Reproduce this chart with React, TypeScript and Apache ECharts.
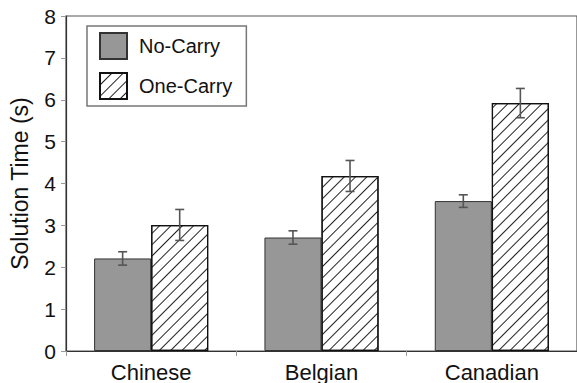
import React, { useEffect, useRef } from "react";
import * as echarts from "echarts";

const groups = ["Chinese", "Belgian", "Canadian"];
const noCarry = [2.21, 2.71, 3.58];
const noCarryErr = [0.16, 0.16, 0.15];
const oneCarry = [3.01, 4.18, 5.92];
const oneCarryErr = [0.37, 0.37, 0.35];
const yTicks = [0, 1, 2, 3, 4, 5, 6, 7, 8];

const FONT = '"Liberation Sans", Arial, Helvetica, sans-serif';
const CATEGORY_GAP = 0.33;

// Error bar drawn at the centre of the left (-1) or right (+1) bar of a group
function errorBarRenderer(side: number) {
  return (params: any, api: any) => {
    const idx = api.value(0);
    const v = api.value(1);
    const e = api.value(2);
    const band = api.size([1, 0])[0];
    const bw = (band * (1 - CATEGORY_GAP)) / 2;
    const base = api.coord([idx, v]);
    const cx = base[0] + (side * bw) / 2;
    const yTop = api.coord([idx, v + e])[1];
    const yBot = api.coord([idx, v - e])[1];
    const cap = 4.5;
    const style = { stroke: "#555", lineWidth: 1.6 };
    return {
      type: "group",
      children: [
        { type: "line", shape: { x1: cx, y1: yTop, x2: cx, y2: yBot }, style },
        { type: "line", shape: { x1: cx - cap, y1: yTop, x2: cx + cap, y2: yTop }, style },
        { type: "line", shape: { x1: cx - cap, y1: yBot, x2: cx + cap, y2: yBot }, style },
      ],
    };
  };
}

export default function App() {
  const ref = useRef<HTMLDivElement>(null);

  useEffect(() => {
    if (!ref.current) return;
    const chart = echarts.init(ref.current, undefined, { renderer: "svg" });

    const hatch = {
      symbol: "rect",
      symbolSize: 1,
      color: "#222",
      backgroundColor: "#fff",
      dashArrayX: [1, 0],
      dashArrayY: [0.8, 7],
      rotation: -Math.PI / 4,
    };

    chart.setOption({
      animation: false,
      textStyle: { fontFamily: FONT },
      grid: {
        left: 63,
        top: 16,
        bottom: 31,
        right: -2,
        show: true,
        borderColor: "#555",
        borderWidth: 1.2,
        backgroundColor: "transparent",
      },
      legend: {
        orient: "vertical",
        left: 87,
        top: 26,
        padding: [6, 14, 6, 12],
        itemGap: 12,
        itemWidth: 27,
        itemHeight: 26,
        icon: "rect",
        borderColor: "#777",
        borderWidth: 1.5,
        backgroundColor: "#fff",
        textStyle: { fontSize: 20, color: "#111", fontFamily: FONT, padding: [0, 0, 0, 7] },
        data: ["No-Carry", "One-Carry"],
      },
      xAxis: {
        type: "category",
        data: groups,
        boundaryGap: true,
        axisLine: { lineStyle: { color: "#333", width: 1.2 } },
        axisTick: { show: true, length: 5, lineStyle: { color: "#999" } },
        axisLabel: { fontSize: 22, color: "#111", margin: 10, fontFamily: FONT },
      },
      yAxis: {
        type: "value",
        min: 0,
        max: 8,
        interval: 1,
        name: "Solution Time (s)",
        nameLocation: "middle",
        nameGap: 35,
        nameTextStyle: { fontSize: 23, color: "#111", fontFamily: FONT },
        axisLine: { show: true, lineStyle: { color: "#333", width: 1.2 } },
        axisTick: { show: true, length: 5, lineStyle: { color: "#999" } },
        axisLabel: {
          fontSize: 21,
          color: "#111",
          margin: 10,
          fontFamily: FONT,
          formatter: (v: number) => (yTicks.includes(v) ? String(v) : ""),
        },
        splitLine: { show: false },
      },
      series: [
        {
          name: "No-Carry",
          type: "bar",
          data: noCarry,
          barGap: "0%",
          barCategoryGap: CATEGORY_GAP * 100 + "%",
          itemStyle: { color: "#979797", borderColor: "#333", borderWidth: 1 },
        },
        {
          name: "One-Carry",
          type: "bar",
          data: oneCarry,
          barGap: "0%",
          barCategoryGap: CATEGORY_GAP * 100 + "%",
          itemStyle: { color: "#fff", borderColor: "#111", borderWidth: 1.2, decal: hatch },
        },
        {
          type: "custom",
          z: 10,
          renderItem: errorBarRenderer(-1),
          encode: { x: 0, y: 1 },
          data: noCarry.map((v, i) => [i, v, noCarryErr[i]]),
        },
        {
          type: "custom",
          z: 10,
          renderItem: errorBarRenderer(1),
          encode: { x: 0, y: 1 },
          data: oneCarry.map((v, i) => [i, v, oneCarryErr[i]]),
        },
      ],
    });

    return () => chart.dispose();
  }, []);

  return (
    <div
      ref={ref}
      style={{ position: "absolute", left: 0, top: 0, width: 577, height: 383, background: "#fff" }}
    />
  );
}
